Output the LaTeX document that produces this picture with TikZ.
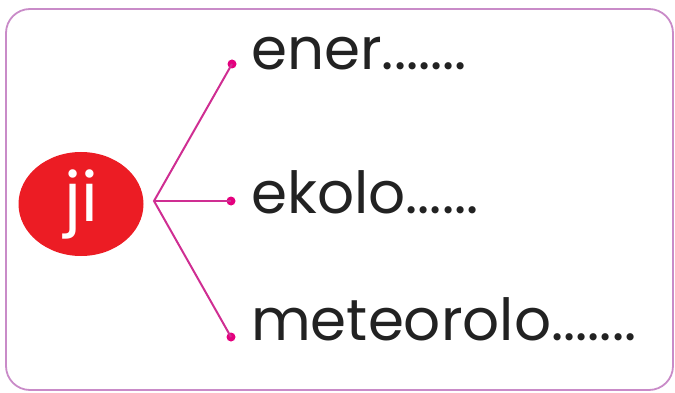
\documentclass[tikz,border=0pt]{standalone}
\usepackage{fontspec}
\setmainfont{Poppins}
\usetikzlibrary{shapes.geometric}
\definecolor{framepink}{HTML}{C98BC8}
\definecolor{linepink}{HTML}{CF2E92}
\definecolor{dotpink}{HTML}{E4007E}
\definecolor{jired}{HTML}{EC1C24}
\definecolor{textgray}{HTML}{222222}

\begin{document}
\begin{tikzpicture}[x=1pt,y=-1pt]
\useasboundingbox (0,0) rectangle (675,393);

\draw [framepink, line width=1.8pt, rounded corners=24pt] (6,9) rectangle (673,390);

\node (ji) at (81,204) [ellipse, fill=jired, minimum width=125pt, minimum height=104pt, inner sep=0pt, text=white, font=\fontsize{68}{68}\selectfont] {ji};

\coordinate (hub) at (154,201);

\node (dotA) at (232,64) [circle, fill=dotpink, inner sep=0pt, minimum size=9pt] {};
\node (dotB) at (231,201) [circle, fill=dotpink, inner sep=0pt, minimum size=9pt] {};
\node (dotC) at (231,337) [circle, fill=dotpink, inner sep=0pt, minimum size=9pt] {};

\draw [linepink, line width=2pt] (dotA.center) -- (hub) -- (dotC.center);
\draw [linepink, line width=2pt] (hub) -- (dotB.center);

\node (ener) at (251,70) [anchor=base west, inner sep=0pt, text=textgray, font=\fontsize{58}{58}\selectfont] {ener.......};
\node (ekolo) at (251,213) [anchor=base west, inner sep=0pt, text=textgray, font=\fontsize{58}{58}\selectfont] {ekolo......};
\node (meteo) at (251,340) [anchor=base west, inner sep=0pt, text=textgray, font=\fontsize{58}{58}\selectfont] {meteorolo.......};

\end{tikzpicture}
\end{document}
